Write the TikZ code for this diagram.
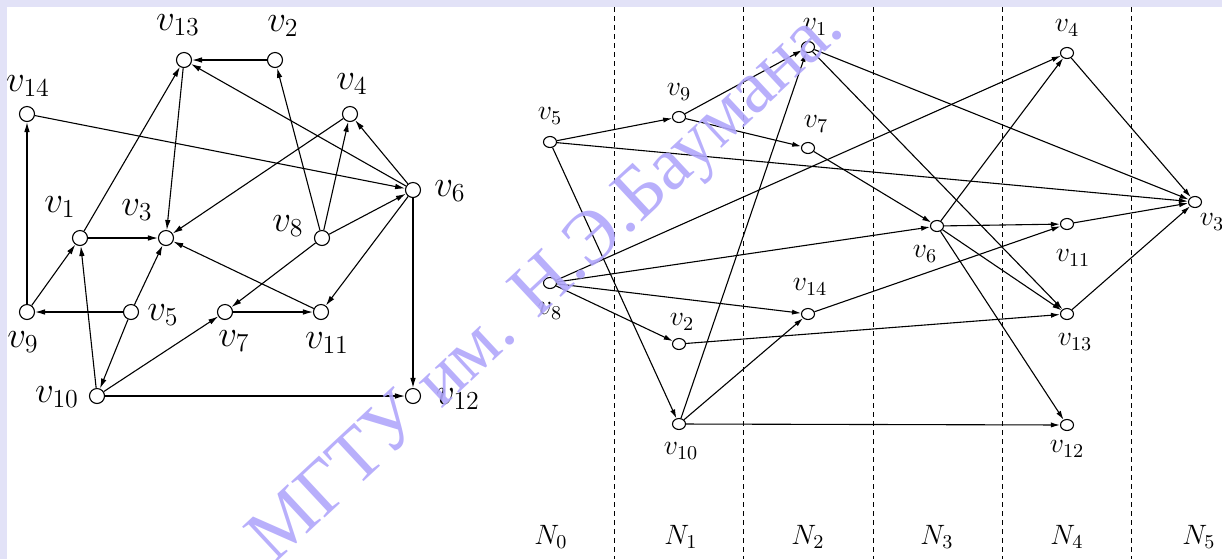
\RequirePackage{fix-cm}
\documentclass[tikz,border=0pt]{standalone}
\usepackage{fontspec}
\usepackage{tikz}
\usetikzlibrary{shapes.geometric, arrows.meta}
\newfontfamily\wmfont{Liberation Serif}
\definecolor{frame}{RGB}{226,226,247}
\definecolor{wmblue}{RGB}{176,166,251}
\tikzset{
    vtxL/.style={circle, draw, minimum size=7.5pt, inner sep=0pt, line width=0.55pt, fill=white},
    vtxR/.style={ellipse, draw, minimum width=6.5pt, minimum height=5.5pt, inner sep=0pt, line width=0.55pt, fill=white},
    lblL/.style={inner sep=0pt, font=\fontsize{18.5}{21}\selectfont},
    lblR/.style={inner sep=0pt, font=\fontsize{14}{16}\selectfont},
    edgeL/.style={-{Latex[length=5pt,width=2.8pt]}, line width=0.55pt},
    edgeR/.style={-{Latex[length=4.5pt,width=2.6pt]}, line width=0.55pt},
    layerline/.style={dash pattern=on 2.5pt off 2pt, line width=0.5pt},
}

\begin{document}
\begin{tikzpicture}[x=0.5pt, y=-0.5pt]

\useasboundingbox (0,0) rectangle (1222,559);
\fill[frame] (0,0) rectangle (1222,7);
\fill[frame] (0,0) rectangle (7,559);

% left graph
\node[vtxL] (L13) at (184,60) {};
\node[vtxL] (L2) at (275,60) {};
\node[vtxL] (L14) at (27,114) {};
\node[vtxL] (L4) at (350,114) {};
\node[vtxL] (L6) at (413,190) {};
\node[vtxL] (L1) at (80,238) {};
\node[vtxL] (L3) at (166,238) {};
\node[vtxL] (L8) at (322,238) {};
\node[vtxL] (L9) at (27,312) {};
\node[vtxL] (L5) at (131,312) {};
\node[vtxL] (L7) at (225,312) {};
\node[vtxL] (L11) at (321,312) {};
\node[vtxL] (L10) at (97,396) {};
\node[vtxL] (L12) at (413,396) {};

\node[lblL] (tL13) at (178,25) {$v_{13}$};
\node[lblL] (tL2) at (283,26) {$v_{2}$};
\node[lblL] (tL14) at (28,86) {$v_{14}$};
\node[lblL] (tL4) at (352,84) {$v_{4}$};
\node[lblL] (tL6) at (450,191) {$v_{6}$};
\node[lblL] (tL1) at (60,207) {$v_{1}$};
\node[lblL] (tL3) at (137,210) {$v_{3}$};
\node[lblL] (tL8) at (288,226) {$v_{8}$};
\node[lblL] (tL9) at (23,342) {$v_{9}$};
\node[lblL] (tL5) at (163,315) {$v_{5}$};
\node[lblL] (tL7) at (234,341) {$v_{7}$};
\node[lblL] (tL11) at (327,343) {$v_{11}$};
\node[lblL] (tL10) at (57,397) {$v_{10}$};
\node[lblL] (tL12) at (458,399) {$v_{12}$};

\draw[edgeL] (L2) -- (L13);
\draw[edgeL] (L8) -- (L2);
\draw[edgeL] (L6) -- (L13);
\draw[edgeL] (L1) -- (L13);
\draw[edgeL] (L13) -- (L3);
\draw[edgeL] (L14) -- (L6);
\draw[edgeL] (L9) -- (L14);
\draw[edgeL] (L4) -- (L3);
\draw[edgeL] (L6) -- (L4);
\draw[edgeL] (L8) -- (L4);
\draw[edgeL] (L8) -- (L6);
\draw[edgeL] (L1) -- (L3);
\draw[edgeL] (L11) -- (L3);
\draw[edgeL] (L8) -- (L7);
\draw[edgeL] (L6) -- (L11);
\draw[edgeL] (L6) -- (L12);
\draw[edgeL] (L9) -- (L1);
\draw[edgeL] (L10) -- (L1);
\draw[edgeL] (L5) -- (L9);
\draw[edgeL] (L5) -- (L3);
\draw[edgeL] (L5) -- (L10);
\draw[edgeL] (L10) -- (L7);
\draw[edgeL] (L7) -- (L11);
\draw[edgeL] (L10) -- (L12);

% layered graph
\draw[layerline] (614,7) -- (614,559);
\draw[layerline] (743,7) -- (743,559);
\draw[layerline] (873,7) -- (873,559);
\draw[layerline] (1002,7) -- (1002,559);
\draw[layerline] (1131,7) -- (1131,559);

\node[lblR] (N0) at (551,537) {$N_0$};
\node[lblR] (N1) at (681,537) {$N_1$};
\node[lblR] (N2) at (808,537) {$N_2$};
\node[lblR] (N3) at (937,537) {$N_3$};
\node[lblR] (N4) at (1067,537) {$N_4$};
\node[lblR] (N5) at (1199,537) {$N_5$};

\node[vtxR] (R5) at (550,142) {};
\node[vtxR] (R8) at (550,283) {};
\node[vtxR] (R9) at (679,117) {};
\node[vtxR] (R2) at (679,344) {};
\node[vtxR] (R10) at (679,424) {};
\node[vtxR] (R1) at (808,47) {};
\node[vtxR] (R7) at (808,148) {};
\node[vtxR] (R14) at (808,314) {};
\node[vtxR] (R6) at (937,226) {};
\node[vtxR] (R4) at (1067,53) {};
\node[vtxR] (R11) at (1067,224) {};
\node[vtxR] (R13) at (1067,314) {};
\node[vtxR] (R12) at (1067,425) {};
\node[vtxR] (R3) at (1195,202) {};

\node[lblR] (tR5) at (550,116) {$v_{5}$};
\node[lblR] (tR8) at (550,311) {$v_{8}$};
\node[lblR] (tR9) at (679,92) {$v_{9}$};
\node[lblR] (tR2) at (682,322) {$v_{2}$};
\node[lblR] (tR10) at (681,451) {$v_{10}$};
\node[lblR] (tR1) at (815,27) {$v_{1}$};
\node[lblR] (tR7) at (816,124) {$v_{7}$};
\node[lblR] (tR14) at (810,287) {$v_{14}$};
\node[lblR] (tR6) at (925,254) {$v_{6}$};
\node[lblR] (tR4) at (1067,28) {$v_{4}$};
\node[lblR] (tR11) at (1073,258) {$v_{11}$};
\node[lblR] (tR13) at (1075,342) {$v_{13}$};
\node[lblR] (tR12) at (1067,449) {$v_{12}$};
\node[lblR] (tR3) at (1212,222) {$v_{3}$};

\draw[edgeR] (R5) -- (R9);
\draw[edgeR] (R5) -- (R3);
\draw[edgeR] (R5) -- (R10);
\draw[edgeR] (R9) -- (R1);
\draw[edgeR] (R9) -- (R7);
\draw[edgeR] (R8) -- (R4);
\draw[edgeR] (R8) -- (R6);
\draw[edgeR] (R8) -- (R14);
\draw[edgeR] (R8) -- (R2);
\draw[edgeR] (R10) -- (R1);
\draw[edgeR] (R10) -- (R14);
\draw[edgeR] (R10) -- (R12);
\draw[edgeR] (R1) -- (R3);
\draw[edgeR] (R1) -- (R13);
\draw[edgeR] (R7) -- (R6);
\draw[edgeR] (R14) -- (R11);
\draw[edgeR] (R2) -- (R13);
\draw[edgeR] (R6) -- (R4);
\draw[edgeR] (R6) -- (R11);
\draw[edgeR] (R6) -- (R13);
\draw[edgeR] (R6) -- (R12);
\draw[edgeR] (R4) -- (R3);
\draw[edgeR] (R11) -- (R3);
\draw[edgeR] (R13) -- (R3);

% watermark
\node[text=wmblue, text opacity=0.9, rotate=43, inner sep=0pt,
      font=\wmfont\fontsize{37.5}{40}\selectfont] (wm) at (549,286) {МГТУ им. Н.Э.Баумана.};

\end{tikzpicture}
\end{document}
